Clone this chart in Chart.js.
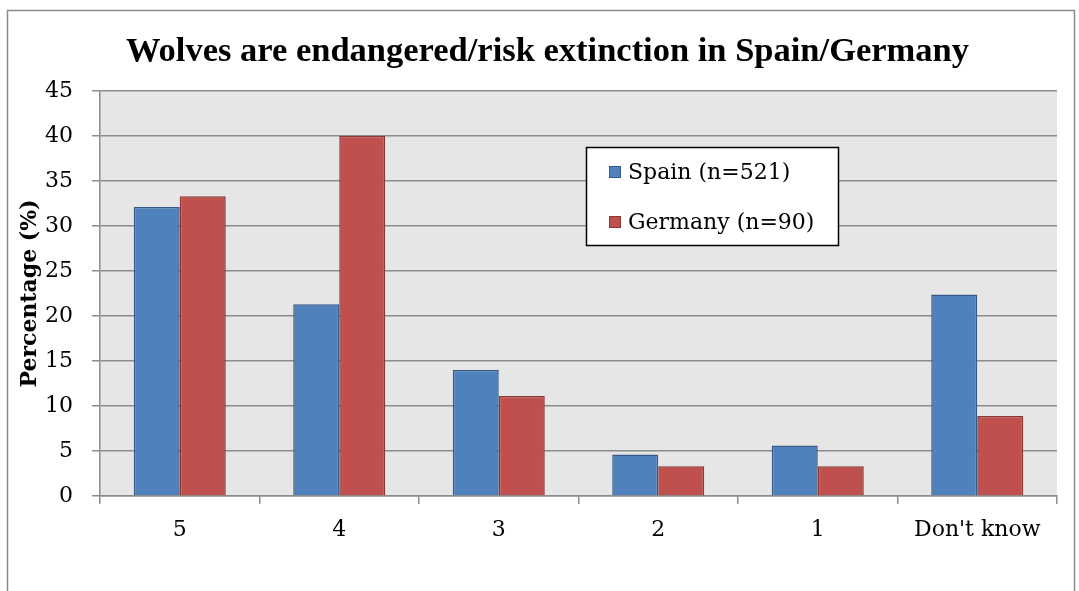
<!DOCTYPE html>
<html><head><meta charset="utf-8">
<script src="https://cdn.jsdelivr.net/npm/chart.js@4/dist/chart.umd.min.js"></script>
<style>html,body{margin:0;padding:0;background:#fff;}#wrap{width:1079px;height:591px;position:relative;}</style>
</head><body><div id="wrap"><canvas id="c" width="1079" height="591"></canvas></div>
<script>
const categories = ["5", "4", "3", "2", "1", "Don't know"];
const spainValues = [32.1, 21.3, 14.0, 4.6, 5.6, 22.4];
const germanyValues = [33.3, 40.0, 11.1, 3.3, 3.3, 8.9];
const seriesNames = ["Spain (n=521)", "Germany (n=90)"];
const yTicks = [0, 5, 10, 15, 20, 25, 30, 35, 40, 45];
const chartTitle = "Wolves are endangered/risk extinction in Spain/Germany";
const yTitle = "Percentage (%)";

const FONT = "'DejaVu Serif', serif";
const TITLE_FONT = "bold 34.5px 'Liberation Serif', serif";

const decor = {
  id: 'decor',
  beforeDraw(chart) {
    const {ctx, chartArea: a} = chart;
    ctx.save();
    ctx.fillStyle = '#fff';
    ctx.fillRect(0, 0, chart.width, chart.height);
    ctx.strokeStyle = '#8a8a8a';
    ctx.lineWidth = 1.5;
    ctx.strokeRect(7.5, 10.5, 1067, 600);
    ctx.fillStyle = '#e6e6e6';
    ctx.fillRect(a.left, a.top, a.right - a.left, a.bottom - a.top);
    // chart title
    ctx.fillStyle = '#000';
    ctx.font = TITLE_FONT;
    ctx.textAlign = 'center';
    ctx.textBaseline = 'alphabetic';
    ctx.fillText(chartTitle, 547.5, 61);
    ctx.restore();
  },
  afterDraw(chart) {
    const {ctx} = chart;
    ctx.save();
    const bx = 586, by = 147, bw = 252, bh = 98;
    ctx.fillStyle = '#fff';
    ctx.fillRect(bx, by, bw, bh);
    ctx.strokeStyle = '#000';
    ctx.lineWidth = 1.5;
    ctx.strokeRect(bx + 0.5, by + 0.5, bw, bh);
    ctx.font = "22px " + FONT;
    ctx.textBaseline = 'middle';
    ctx.textAlign = 'left';
    chart.data.datasets.forEach((ds, i) => {
      const y = by + 25 + i * 50;
      ctx.fillStyle = ds.backgroundColor;
      ctx.fillRect(bx + 23, y - 6, 12, 12);
      ctx.strokeStyle = ds.borderColor;
      ctx.lineWidth = 1;
      ctx.strokeRect(bx + 23.5, y - 5.5, 11, 11);
      ctx.fillStyle = '#000';
      ctx.fillText(ds.label, bx + 42, y + 1);
    });
    ctx.restore();
  }
};

new Chart(document.getElementById('c'), {
  type: 'bar',
  data: {
    labels: categories,
    datasets: [
      {label: seriesNames[0], data: spainValues, backgroundColor: '#4f81bd', borderColor: '#355a87', borderWidth: 1.5},
      {label: seriesNames[1], data: germanyValues, backgroundColor: '#c0504d', borderColor: '#893634', borderWidth: 1.5}
    ]
  },
  options: {
    responsive: false,
    animation: false,
    layout: {padding: {left: 0, right: 22, top: 91, bottom: 0}},
    datasets: {bar: {categoryPercentage: 0.577, barPercentage: 1.0}},
    plugins: {
      legend: {display: false},
      tooltip: {enabled: false},
      title: {display: false}
    },
    scales: {
      x: {
        afterFit(scale) { scale.height = 95; },
        grid: {display: true, drawOnChartArea: false, drawTicks: true, tickLength: 8, offset: true, color: '#8c8c8c', lineWidth: 1.5},
        border: {display: true, color: '#8c8c8c', width: 1.5},
        ticks: {color: '#000', font: {family: FONT, size: 22}, padding: 13}
      },
      y: {
        min: 0, max: 45,
        afterBuildTicks(scale) { scale.ticks = yTicks.map(v => ({value: v})); },
        afterFit(scale) { scale.width = 100; },
        grid: {color: '#8c8c8c', lineWidth: 1.5, tickLength: 8},
        border: {display: true, color: '#8c8c8c', width: 1.5},
        ticks: {color: '#000', font: {family: FONT, size: 22}, padding: 19},
        title: {display: true, text: yTitle, color: '#000', font: {family: FONT, size: 22, weight: 'bold'}, padding: {top: 17, bottom: 0}}
      }
    }
  },
  plugins: [decor]
});
</script></body></html>
